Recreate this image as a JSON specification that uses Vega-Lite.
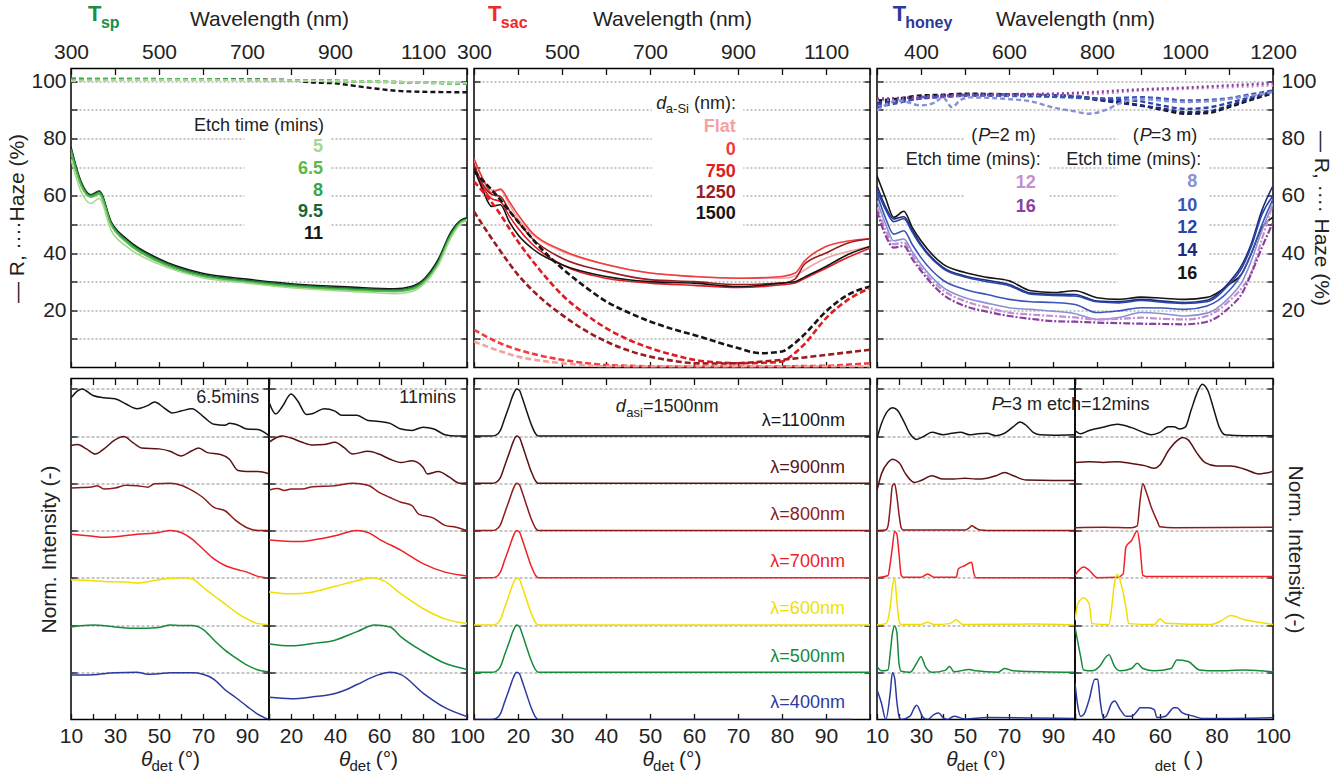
{
"$schema":"https://vega.github.io/schema/vega-lite/v6.json",
"background":"white",
"padding":{"left":5,"top":2.5,"right":5,"bottom":5},
"config":{
 "font":"Liberation Sans",
 "view":{"stroke":"#000","strokeWidth":1.5},
 "axis":{"domain":false,"grid":false,"labelFont":"Liberation Sans","titleFont":"Liberation Sans","labelFontSize":21,"labelColor":"#222","titleFontSize":21,"titleFontWeight":"normal","titleColor":"#222","tickColor":"#111","tickSize":-6,"tickWidth":1.3,"labelPadding":11,"minExtent":0,"gridColor":"#8c8c8c","gridDash":[2,2],"gridWidth":1,"labelFlush":false,"labelOverlap":false},
 "text":{"font":"Liberation Sans","fontSize":18,"baseline":"middle"}
},
"datasets":{
"tl":[
{"s":"11","k":"R","x":300,"y":77},{"s":"11","k":"R","x":323,"y":64.9},{"s":"11","k":"R","x":345,"y":60.4},{"s":"11","k":"R","x":364,"y":61.7},{"s":"11","k":"R","x":391,"y":51},{"s":"11","k":"R","x":429,"y":44.6},{"s":"11","k":"R","x":497,"y":38.2},{"s":"11","k":"R","x":596,"y":33},{"s":"11","k":"R","x":698,"y":30.9},{"s":"11","k":"R","x":823,"y":29},{"s":"11","k":"R","x":937,"y":28.1},{"s":"11","k":"R","x":1035,"y":27.5},{"s":"11","k":"R","x":1073,"y":28.3},{"s":"11","k":"R","x":1104,"y":31.2},{"s":"11","k":"R","x":1134,"y":37.6},{"s":"11","k":"R","x":1164,"y":47.5},{"s":"11","k":"R","x":1187,"y":51.6},{"s":"11","k":"R","x":1200,"y":52.3},
{"s":"9.5","k":"R","x":300,"y":76.5},{"s":"9.5","k":"R","x":323,"y":64.5},{"s":"9.5","k":"R","x":345,"y":60.2},{"s":"9.5","k":"R","x":364,"y":61.5},{"s":"9.5","k":"R","x":391,"y":50.6},{"s":"9.5","k":"R","x":429,"y":44.2},{"s":"9.5","k":"R","x":497,"y":37.8},{"s":"9.5","k":"R","x":596,"y":32.6},{"s":"9.5","k":"R","x":698,"y":30.5},{"s":"9.5","k":"R","x":823,"y":28.6},{"s":"9.5","k":"R","x":937,"y":27.7},{"s":"9.5","k":"R","x":1035,"y":27.1},{"s":"9.5","k":"R","x":1073,"y":27.9},{"s":"9.5","k":"R","x":1104,"y":30.8},{"s":"9.5","k":"R","x":1134,"y":37},{"s":"9.5","k":"R","x":1164,"y":47},{"s":"9.5","k":"R","x":1187,"y":51.3},{"s":"9.5","k":"R","x":1200,"y":52},
{"s":"8","k":"R","x":300,"y":76},{"s":"8","k":"R","x":323,"y":64},{"s":"8","k":"R","x":345,"y":59.8},{"s":"8","k":"R","x":364,"y":61},{"s":"8","k":"R","x":391,"y":50.2},{"s":"8","k":"R","x":429,"y":43.8},{"s":"8","k":"R","x":497,"y":37.4},{"s":"8","k":"R","x":596,"y":32.2},{"s":"8","k":"R","x":698,"y":30.1},{"s":"8","k":"R","x":823,"y":28.3},{"s":"8","k":"R","x":937,"y":27.3},{"s":"8","k":"R","x":1035,"y":26.8},{"s":"8","k":"R","x":1073,"y":27.5},{"s":"8","k":"R","x":1104,"y":30.3},{"s":"8","k":"R","x":1134,"y":36.5},{"s":"8","k":"R","x":1164,"y":46.5},{"s":"8","k":"R","x":1187,"y":51},{"s":"8","k":"R","x":1200,"y":51.8},
{"s":"6.5","k":"R","x":300,"y":75},{"s":"6.5","k":"R","x":323,"y":63.5},{"s":"6.5","k":"R","x":345,"y":59.5},{"s":"6.5","k":"R","x":364,"y":60.6},{"s":"6.5","k":"R","x":391,"y":49.8},{"s":"6.5","k":"R","x":429,"y":43.4},{"s":"6.5","k":"R","x":497,"y":37},{"s":"6.5","k":"R","x":596,"y":31.8},{"s":"6.5","k":"R","x":698,"y":29.8},{"s":"6.5","k":"R","x":823,"y":28},{"s":"6.5","k":"R","x":937,"y":27},{"s":"6.5","k":"R","x":1035,"y":26.5},{"s":"6.5","k":"R","x":1073,"y":27.2},{"s":"6.5","k":"R","x":1104,"y":30},{"s":"6.5","k":"R","x":1134,"y":36},{"s":"6.5","k":"R","x":1164,"y":46},{"s":"6.5","k":"R","x":1187,"y":50.7},{"s":"6.5","k":"R","x":1200,"y":51.5},
{"s":"5","k":"R","x":300,"y":72.8},{"s":"5","k":"R","x":323,"y":61.5},{"s":"5","k":"R","x":345,"y":57.3},{"s":"5","k":"R","x":364,"y":59.1},{"s":"5","k":"R","x":391,"y":48},{"s":"5","k":"R","x":429,"y":42},{"s":"5","k":"R","x":497,"y":36.3},{"s":"5","k":"R","x":596,"y":31.5},{"s":"5","k":"R","x":698,"y":29.5},{"s":"5","k":"R","x":823,"y":27.6},{"s":"5","k":"R","x":937,"y":26.6},{"s":"5","k":"R","x":1035,"y":25.8},{"s":"5","k":"R","x":1073,"y":26.5},{"s":"5","k":"R","x":1104,"y":29.5},{"s":"5","k":"R","x":1134,"y":35.5},{"s":"5","k":"R","x":1164,"y":45.5},{"s":"5","k":"R","x":1187,"y":50.5},{"s":"5","k":"R","x":1200,"y":51.5},
{"s":"11","k":"H","x":300,"y":100.8},{"s":"11","k":"H","x":500,"y":100.8},{"s":"11","k":"H","x":700,"y":100.6},{"s":"11","k":"H","x":800,"y":100.4},{"s":"11","k":"H","x":840,"y":99.7},{"s":"11","k":"H","x":900,"y":99.3},{"s":"11","k":"H","x":975,"y":97.8},{"s":"11","k":"H","x":1051,"y":96.6},{"s":"11","k":"H","x":1120,"y":96.3},{"s":"11","k":"H","x":1200,"y":96.2},
{"s":"9.5","k":"H","x":300,"y":100.9},{"s":"9.5","k":"H","x":500,"y":100.8},{"s":"9.5","k":"H","x":700,"y":100.6},{"s":"9.5","k":"H","x":900,"y":100.2},{"s":"9.5","k":"H","x":1000,"y":99.9},{"s":"9.5","k":"H","x":1100,"y":99.6},{"s":"9.5","k":"H","x":1200,"y":99.3},
{"s":"8","k":"H","x":300,"y":100.7},{"s":"8","k":"H","x":500,"y":100.7},{"s":"8","k":"H","x":700,"y":100.5},{"s":"8","k":"H","x":900,"y":100.1},{"s":"8","k":"H","x":1000,"y":99.8},{"s":"8","k":"H","x":1100,"y":99.5},{"s":"8","k":"H","x":1200,"y":99.2},
{"s":"6.5","k":"H","x":300,"y":100.6},{"s":"6.5","k":"H","x":500,"y":100.6},{"s":"6.5","k":"H","x":700,"y":100.5},{"s":"6.5","k":"H","x":900,"y":100.2},{"s":"6.5","k":"H","x":1000,"y":99.9},{"s":"6.5","k":"H","x":1100,"y":99.6},{"s":"6.5","k":"H","x":1200,"y":99.4},
{"s":"5","k":"H","x":300,"y":100.2},{"s":"5","k":"H","x":500,"y":100.5},{"s":"5","k":"H","x":700,"y":100.4},{"s":"5","k":"H","x":900,"y":100.1},{"s":"5","k":"H","x":1000,"y":99.9},{"s":"5","k":"H","x":1100,"y":99.6},{"s":"5","k":"H","x":1200,"y":99.4}
],
"tm":[
{"s":"Flat","k":"R","x":300,"y":72.6},{"s":"Flat","k":"R","x":320,"y":66},{"s":"Flat","k":"R","x":340,"y":62},{"s":"Flat","k":"R","x":360,"y":62},{"s":"Flat","k":"R","x":380,"y":57},{"s":"Flat","k":"R","x":400,"y":52},{"s":"Flat","k":"R","x":433,"y":46.4},{"s":"Flat","k":"R","x":500,"y":40.6},{"s":"Flat","k":"R","x":600,"y":36},{"s":"Flat","k":"R","x":700,"y":33},{"s":"Flat","k":"R","x":800,"y":31.8},{"s":"Flat","k":"R","x":900,"y":31.2},{"s":"Flat","k":"R","x":1000,"y":31.2},{"s":"Flat","k":"R","x":1030,"y":32},{"s":"Flat","k":"R","x":1050,"y":34},{"s":"Flat","k":"R","x":1100,"y":38.2},{"s":"Flat","k":"R","x":1150,"y":40.5},{"s":"Flat","k":"R","x":1200,"y":42.3},
{"s":"0","k":"R","x":300,"y":73},{"s":"0","k":"R","x":320,"y":66},{"s":"0","k":"R","x":340,"y":61},{"s":"0","k":"R","x":360,"y":62.4},{"s":"0","k":"R","x":380,"y":58},{"s":"0","k":"R","x":400,"y":53.4},{"s":"0","k":"R","x":433,"y":47},{"s":"0","k":"R","x":500,"y":41},{"s":"0","k":"R","x":600,"y":36},{"s":"0","k":"R","x":700,"y":33},{"s":"0","k":"R","x":800,"y":31.8},{"s":"0","k":"R","x":900,"y":31.2},{"s":"0","k":"R","x":1000,"y":31.8},{"s":"0","k":"R","x":1030,"y":33},{"s":"0","k":"R","x":1050,"y":37},{"s":"0","k":"R","x":1100,"y":42.3},{"s":"0","k":"R","x":1150,"y":44.2},{"s":"0","k":"R","x":1200,"y":45},
{"s":"750","k":"R","x":300,"y":69.7},{"s":"750","k":"R","x":320,"y":63},{"s":"750","k":"R","x":340,"y":59},{"s":"750","k":"R","x":360,"y":58},{"s":"750","k":"R","x":380,"y":53},{"s":"750","k":"R","x":400,"y":48.7},{"s":"750","k":"R","x":433,"y":43},{"s":"750","k":"R","x":500,"y":35.9},{"s":"750","k":"R","x":600,"y":31.2},{"s":"750","k":"R","x":700,"y":29.5},{"s":"750","k":"R","x":800,"y":28.7},{"s":"750","k":"R","x":900,"y":28},{"s":"750","k":"R","x":1000,"y":28.9},{"s":"750","k":"R","x":1030,"y":29.5},{"s":"750","k":"R","x":1050,"y":31},{"s":"750","k":"R","x":1100,"y":34.7},{"s":"750","k":"R","x":1150,"y":38.5},{"s":"750","k":"R","x":1200,"y":41.7},
{"s":"1250","k":"R","x":300,"y":70.9},{"s":"1250","k":"R","x":320,"y":64},{"s":"1250","k":"R","x":340,"y":60.5},{"s":"1250","k":"R","x":360,"y":59.8},{"s":"1250","k":"R","x":380,"y":55},{"s":"1250","k":"R","x":400,"y":51},{"s":"1250","k":"R","x":433,"y":45},{"s":"1250","k":"R","x":500,"y":38.2},{"s":"1250","k":"R","x":600,"y":33.6},{"s":"1250","k":"R","x":700,"y":30.7},{"s":"1250","k":"R","x":800,"y":30},{"s":"1250","k":"R","x":900,"y":29},{"s":"1250","k":"R","x":1000,"y":29.5},{"s":"1250","k":"R","x":1030,"y":31},{"s":"1250","k":"R","x":1050,"y":35.9},{"s":"1250","k":"R","x":1100,"y":40},{"s":"1250","k":"R","x":1150,"y":43.5},{"s":"1250","k":"R","x":1200,"y":45},
{"s":"1500","k":"R","x":300,"y":69.7},{"s":"1500","k":"R","x":320,"y":62},{"s":"1500","k":"R","x":340,"y":56.3},{"s":"1500","k":"R","x":360,"y":56.9},{"s":"1500","k":"R","x":380,"y":51},{"s":"1500","k":"R","x":400,"y":46.4},{"s":"1500","k":"R","x":433,"y":41.5},{"s":"1500","k":"R","x":500,"y":35.9},{"s":"1500","k":"R","x":600,"y":31.8},{"s":"1500","k":"R","x":700,"y":30},{"s":"1500","k":"R","x":800,"y":29.5},{"s":"1500","k":"R","x":900,"y":28.3},{"s":"1500","k":"R","x":1000,"y":29.5},{"s":"1500","k":"R","x":1030,"y":30},{"s":"1500","k":"R","x":1050,"y":31.5},{"s":"1500","k":"R","x":1100,"y":35.3},{"s":"1500","k":"R","x":1150,"y":39.5},{"s":"1500","k":"R","x":1200,"y":42.3},
{"s":"1500","k":"H","x":300,"y":68.5},{"s":"1500","k":"H","x":350,"y":60.4},{"s":"1500","k":"H","x":400,"y":51},{"s":"1500","k":"H","x":450,"y":42},{"s":"1500","k":"H","x":500,"y":34.7},{"s":"1500","k":"H","x":550,"y":28.5},{"s":"1500","k":"H","x":600,"y":23.1},{"s":"1500","k":"H","x":650,"y":19.3},{"s":"1500","k":"H","x":700,"y":16.1},{"s":"1500","k":"H","x":750,"y":13.5},{"s":"1500","k":"H","x":800,"y":11.4},{"s":"1500","k":"H","x":850,"y":9},{"s":"1500","k":"H","x":900,"y":6.8},{"s":"1500","k":"H","x":950,"y":5},{"s":"1500","k":"H","x":1000,"y":5.6},{"s":"1500","k":"H","x":1025,"y":8},{"s":"1500","k":"H","x":1050,"y":11.4},{"s":"1500","k":"H","x":1100,"y":19.6},{"s":"1500","k":"H","x":1150,"y":25.4},{"s":"1500","k":"H","x":1200,"y":28.3},
{"s":"750","k":"H","x":300,"y":65},{"s":"750","k":"H","x":350,"y":55.7},{"s":"750","k":"H","x":400,"y":44},{"s":"750","k":"H","x":450,"y":34},{"s":"750","k":"H","x":500,"y":25.4},{"s":"750","k":"H","x":550,"y":19},{"s":"750","k":"H","x":600,"y":13.8},{"s":"750","k":"H","x":650,"y":9.8},{"s":"750","k":"H","x":700,"y":6.8},{"s":"750","k":"H","x":750,"y":4.5},{"s":"750","k":"H","x":800,"y":2.7},{"s":"750","k":"H","x":850,"y":1.8},{"s":"750","k":"H","x":900,"y":1.5},{"s":"750","k":"H","x":950,"y":1.6},{"s":"750","k":"H","x":1000,"y":2.1},{"s":"750","k":"H","x":1025,"y":4.5},{"s":"750","k":"H","x":1050,"y":8},{"s":"750","k":"H","x":1100,"y":17.2},{"s":"750","k":"H","x":1150,"y":23.7},{"s":"750","k":"H","x":1200,"y":27.7},
{"s":"1250","k":"H","x":300,"y":54.5},{"s":"1250","k":"H","x":350,"y":42.9},{"s":"1250","k":"H","x":400,"y":32.4},{"s":"1250","k":"H","x":450,"y":24.5},{"s":"1250","k":"H","x":500,"y":18.4},{"s":"1250","k":"H","x":550,"y":13.2},{"s":"1250","k":"H","x":600,"y":9.1},{"s":"1250","k":"H","x":650,"y":6},{"s":"1250","k":"H","x":700,"y":3.8},{"s":"1250","k":"H","x":750,"y":2.4},{"s":"1250","k":"H","x":800,"y":1.5},{"s":"1250","k":"H","x":850,"y":1.4},{"s":"1250","k":"H","x":900,"y":1.5},{"s":"1250","k":"H","x":950,"y":2},{"s":"1250","k":"H","x":1000,"y":2.7},{"s":"1250","k":"H","x":1025,"y":3.1},{"s":"1250","k":"H","x":1050,"y":3.5},{"s":"1250","k":"H","x":1100,"y":4.4},{"s":"1250","k":"H","x":1150,"y":5.3},{"s":"1250","k":"H","x":1200,"y":6.2},
{"s":"0","k":"H","x":300,"y":13.2},{"s":"0","k":"H","x":350,"y":9.1},{"s":"0","k":"H","x":400,"y":6.2},{"s":"0","k":"H","x":450,"y":4.2},{"s":"0","k":"H","x":500,"y":2.7},{"s":"0","k":"H","x":550,"y":1.6},{"s":"0","k":"H","x":600,"y":0.9},{"s":"0","k":"H","x":650,"y":0.6},{"s":"0","k":"H","x":700,"y":0.4},{"s":"0","k":"H","x":800,"y":0.3},{"s":"0","k":"H","x":900,"y":0.3},{"s":"0","k":"H","x":1000,"y":0.4},{"s":"0","k":"H","x":1050,"y":0.5},{"s":"0","k":"H","x":1100,"y":0.6},{"s":"0","k":"H","x":1150,"y":1},{"s":"0","k":"H","x":1200,"y":1.5},
{"s":"Flat","k":"H","x":300,"y":9.1},{"s":"Flat","k":"H","x":350,"y":6.2},{"s":"Flat","k":"H","x":400,"y":3.8},{"s":"Flat","k":"H","x":450,"y":2.4},{"s":"Flat","k":"H","x":500,"y":1.5},{"s":"Flat","k":"H","x":550,"y":0.8},{"s":"Flat","k":"H","x":600,"y":0.4},{"s":"Flat","k":"H","x":700,"y":0.3},{"s":"Flat","k":"H","x":900,"y":0.3},{"s":"Flat","k":"H","x":1200,"y":0.3}
],
"tr":[
{"s":"16","k":"R","x":300,"y":67},{"s":"16","k":"R","x":320,"y":59},{"s":"16","k":"R","x":338,"y":52.5},{"s":"16","k":"R","x":361,"y":54.6},{"s":"16","k":"R","x":380,"y":49},{"s":"16","k":"R","x":400,"y":44.3},{"s":"16","k":"R","x":450,"y":36.1},{"s":"16","k":"R","x":500,"y":33.2},{"s":"16","k":"R","x":550,"y":31.5},{"s":"16","k":"R","x":600,"y":30.3},{"s":"16","k":"R","x":650,"y":26.8},{"s":"16","k":"R","x":700,"y":26.2},{"s":"16","k":"R","x":750,"y":26.8},{"s":"16","k":"R","x":800,"y":24.4},{"s":"16","k":"R","x":850,"y":23.8},{"s":"16","k":"R","x":900,"y":24.6},{"s":"16","k":"R","x":950,"y":24.2},{"s":"16","k":"R","x":1000,"y":23.8},{"s":"16","k":"R","x":1050,"y":24.5},{"s":"16","k":"R","x":1100,"y":29},{"s":"16","k":"R","x":1130,"y":33},{"s":"16","k":"R","x":1150,"y":39.6},{"s":"16","k":"R","x":1175,"y":48.9},{"s":"16","k":"R","x":1200,"y":52.5},
{"s":"14","k":"R","x":300,"y":63.5},{"s":"14","k":"R","x":320,"y":56},{"s":"14","k":"R","x":338,"y":51.9},{"s":"14","k":"R","x":361,"y":52.7},{"s":"14","k":"R","x":380,"y":48},{"s":"14","k":"R","x":400,"y":43},{"s":"14","k":"R","x":450,"y":35},{"s":"14","k":"R","x":500,"y":32},{"s":"14","k":"R","x":550,"y":30.5},{"s":"14","k":"R","x":600,"y":29},{"s":"14","k":"R","x":650,"y":26},{"s":"14","k":"R","x":700,"y":25.6},{"s":"14","k":"R","x":750,"y":25.5},{"s":"14","k":"R","x":800,"y":23.2},{"s":"14","k":"R","x":850,"y":23},{"s":"14","k":"R","x":900,"y":23.8},{"s":"14","k":"R","x":950,"y":23.2},{"s":"14","k":"R","x":1000,"y":22.7},{"s":"14","k":"R","x":1050,"y":23.5},{"s":"14","k":"R","x":1100,"y":29.7},{"s":"14","k":"R","x":1130,"y":36},{"s":"14","k":"R","x":1150,"y":43},{"s":"14","k":"R","x":1175,"y":55},{"s":"14","k":"R","x":1200,"y":63.5},
{"s":"12","k":"R","x":300,"y":62},{"s":"12","k":"R","x":320,"y":55},{"s":"12","k":"R","x":338,"y":51},{"s":"12","k":"R","x":361,"y":52},{"s":"12","k":"R","x":380,"y":47.3},{"s":"12","k":"R","x":400,"y":42.5},{"s":"12","k":"R","x":450,"y":34.6},{"s":"12","k":"R","x":500,"y":31.6},{"s":"12","k":"R","x":550,"y":30},{"s":"12","k":"R","x":600,"y":28.6},{"s":"12","k":"R","x":650,"y":25.6},{"s":"12","k":"R","x":700,"y":25.2},{"s":"12","k":"R","x":750,"y":25},{"s":"12","k":"R","x":800,"y":23},{"s":"12","k":"R","x":850,"y":22.6},{"s":"12","k":"R","x":900,"y":23.4},{"s":"12","k":"R","x":950,"y":22.8},{"s":"12","k":"R","x":1000,"y":22.4},{"s":"12","k":"R","x":1050,"y":23},{"s":"12","k":"R","x":1100,"y":29},{"s":"12","k":"R","x":1130,"y":35},{"s":"12","k":"R","x":1150,"y":42},{"s":"12","k":"R","x":1175,"y":53.5},{"s":"12","k":"R","x":1200,"y":60},
{"s":"10","k":"R","x":300,"y":60.6},{"s":"10","k":"R","x":320,"y":52},{"s":"10","k":"R","x":338,"y":46.6},{"s":"10","k":"R","x":361,"y":47.8},{"s":"10","k":"R","x":380,"y":43},{"s":"10","k":"R","x":400,"y":38.4},{"s":"10","k":"R","x":450,"y":30.5},{"s":"10","k":"R","x":500,"y":27.3},{"s":"10","k":"R","x":550,"y":25.5},{"s":"10","k":"R","x":600,"y":23.8},{"s":"10","k":"R","x":650,"y":23},{"s":"10","k":"R","x":700,"y":22.7},{"s":"10","k":"R","x":750,"y":22},{"s":"10","k":"R","x":800,"y":19.2},{"s":"10","k":"R","x":850,"y":19.8},{"s":"10","k":"R","x":900,"y":20.9},{"s":"10","k":"R","x":950,"y":20.8},{"s":"10","k":"R","x":1000,"y":20.3},{"s":"10","k":"R","x":1050,"y":21.5},{"s":"10","k":"R","x":1100,"y":26.8},{"s":"10","k":"R","x":1130,"y":33},{"s":"10","k":"R","x":1150,"y":39.6},{"s":"10","k":"R","x":1175,"y":50},{"s":"10","k":"R","x":1200,"y":58.9},
{"s":"8","k":"R","x":300,"y":58.3},{"s":"8","k":"R","x":320,"y":50},{"s":"8","k":"R","x":338,"y":44.3},{"s":"8","k":"R","x":361,"y":44.9},{"s":"8","k":"R","x":380,"y":40.5},{"s":"8","k":"R","x":400,"y":36.1},{"s":"8","k":"R","x":450,"y":28},{"s":"8","k":"R","x":500,"y":24.4},{"s":"8","k":"R","x":550,"y":22.5},{"s":"8","k":"R","x":600,"y":20.9},{"s":"8","k":"R","x":650,"y":20.3},{"s":"8","k":"R","x":700,"y":19.7},{"s":"8","k":"R","x":750,"y":18.8},{"s":"8","k":"R","x":800,"y":16.8},{"s":"8","k":"R","x":850,"y":17.5},{"s":"8","k":"R","x":900,"y":19.2},{"s":"8","k":"R","x":950,"y":18.8},{"s":"8","k":"R","x":1000,"y":18},{"s":"8","k":"R","x":1050,"y":19},{"s":"8","k":"R","x":1100,"y":24.4},{"s":"8","k":"R","x":1130,"y":30},{"s":"8","k":"R","x":1150,"y":37},{"s":"8","k":"R","x":1175,"y":48},{"s":"8","k":"R","x":1200,"y":57.1},
{"s":"P2-12","k":"R2","x":300,"y":56},{"s":"P2-12","k":"R2","x":320,"y":48},{"s":"P2-12","k":"R2","x":338,"y":43.1},{"s":"P2-12","k":"R2","x":361,"y":43.7},{"s":"P2-12","k":"R2","x":380,"y":39.5},{"s":"P2-12","k":"R2","x":400,"y":34.9},{"s":"P2-12","k":"R2","x":450,"y":27},{"s":"P2-12","k":"R2","x":500,"y":23.2},{"s":"P2-12","k":"R2","x":550,"y":21},{"s":"P2-12","k":"R2","x":600,"y":19.2},{"s":"P2-12","k":"R2","x":650,"y":18.5},{"s":"P2-12","k":"R2","x":700,"y":18},{"s":"P2-12","k":"R2","x":750,"y":17.5},{"s":"P2-12","k":"R2","x":800,"y":16.8},{"s":"P2-12","k":"R2","x":850,"y":17},{"s":"P2-12","k":"R2","x":900,"y":17.4},{"s":"P2-12","k":"R2","x":950,"y":17},{"s":"P2-12","k":"R2","x":1000,"y":16.8},{"s":"P2-12","k":"R2","x":1050,"y":18},{"s":"P2-12","k":"R2","x":1100,"y":23.2},{"s":"P2-12","k":"R2","x":1130,"y":28},{"s":"P2-12","k":"R2","x":1150,"y":33},{"s":"P2-12","k":"R2","x":1175,"y":45},{"s":"P2-12","k":"R2","x":1200,"y":57.5},
{"s":"P2-16","k":"R2","x":300,"y":54.8},{"s":"P2-16","k":"R2","x":320,"y":46},{"s":"P2-16","k":"R2","x":338,"y":41.9},{"s":"P2-16","k":"R2","x":361,"y":42.5},{"s":"P2-16","k":"R2","x":380,"y":38},{"s":"P2-16","k":"R2","x":400,"y":33.8},{"s":"P2-16","k":"R2","x":450,"y":25.5},{"s":"P2-16","k":"R2","x":500,"y":21.5},{"s":"P2-16","k":"R2","x":550,"y":19.5},{"s":"P2-16","k":"R2","x":600,"y":18},{"s":"P2-16","k":"R2","x":650,"y":17},{"s":"P2-16","k":"R2","x":700,"y":16.2},{"s":"P2-16","k":"R2","x":750,"y":16},{"s":"P2-16","k":"R2","x":800,"y":15.7},{"s":"P2-16","k":"R2","x":850,"y":15.5},{"s":"P2-16","k":"R2","x":900,"y":15.3},{"s":"P2-16","k":"R2","x":950,"y":15.2},{"s":"P2-16","k":"R2","x":1000,"y":15.1},{"s":"P2-16","k":"R2","x":1050,"y":16},{"s":"P2-16","k":"R2","x":1100,"y":20.9},{"s":"P2-16","k":"R2","x":1130,"y":26},{"s":"P2-16","k":"R2","x":1150,"y":32.6},{"s":"P2-16","k":"R2","x":1175,"y":42},{"s":"P2-16","k":"R2","x":1200,"y":50.7},
{"s":"16","k":"H","x":300,"y":93.3},{"s":"16","k":"H","x":350,"y":94},{"s":"16","k":"H","x":400,"y":95.1},{"s":"16","k":"H","x":450,"y":95.3},{"s":"16","k":"H","x":500,"y":95.7},{"s":"16","k":"H","x":600,"y":95.5},{"s":"16","k":"H","x":700,"y":95.1},{"s":"16","k":"H","x":750,"y":94.8},{"s":"16","k":"H","x":800,"y":93.9},{"s":"16","k":"H","x":850,"y":92.8},{"s":"16","k":"H","x":900,"y":91.6},{"s":"16","k":"H","x":950,"y":90},{"s":"16","k":"H","x":1000,"y":88.7},{"s":"16","k":"H","x":1050,"y":88.9},{"s":"16","k":"H","x":1100,"y":91},{"s":"16","k":"H","x":1150,"y":93.5},{"s":"16","k":"H","x":1200,"y":95.9},
{"s":"14","k":"H","x":300,"y":92.5},{"s":"14","k":"H","x":350,"y":93.5},{"s":"14","k":"H","x":400,"y":94.5},{"s":"14","k":"H","x":450,"y":95},{"s":"14","k":"H","x":500,"y":95.3},{"s":"14","k":"H","x":600,"y":95.2},{"s":"14","k":"H","x":700,"y":95},{"s":"14","k":"H","x":750,"y":94.5},{"s":"14","k":"H","x":800,"y":93.5},{"s":"14","k":"H","x":850,"y":92.5},{"s":"14","k":"H","x":900,"y":91.5},{"s":"14","k":"H","x":950,"y":90.5},{"s":"14","k":"H","x":1000,"y":89.3},{"s":"14","k":"H","x":1050,"y":89.5},{"s":"14","k":"H","x":1100,"y":91.5},{"s":"14","k":"H","x":1150,"y":94},{"s":"14","k":"H","x":1200,"y":96.3},
{"s":"12","k":"H","x":300,"y":92},{"s":"12","k":"H","x":350,"y":93},{"s":"12","k":"H","x":400,"y":94},{"s":"12","k":"H","x":450,"y":94.6},{"s":"12","k":"H","x":500,"y":95},{"s":"12","k":"H","x":600,"y":95.3},{"s":"12","k":"H","x":700,"y":95.2},{"s":"12","k":"H","x":750,"y":94.8},{"s":"12","k":"H","x":800,"y":94},{"s":"12","k":"H","x":850,"y":93.5},{"s":"12","k":"H","x":900,"y":93},{"s":"12","k":"H","x":950,"y":91.5},{"s":"12","k":"H","x":1000,"y":90.4},{"s":"12","k":"H","x":1050,"y":90.8},{"s":"12","k":"H","x":1100,"y":92.5},{"s":"12","k":"H","x":1150,"y":94.5},{"s":"12","k":"H","x":1200,"y":96.5},
{"s":"10","k":"H","x":300,"y":91},{"s":"10","k":"H","x":350,"y":92.5},{"s":"10","k":"H","x":400,"y":94.1},{"s":"10","k":"H","x":450,"y":94.6},{"s":"10","k":"H","x":500,"y":95},{"s":"10","k":"H","x":600,"y":94.9},{"s":"10","k":"H","x":700,"y":94.6},{"s":"10","k":"H","x":750,"y":94.3},{"s":"10","k":"H","x":800,"y":94},{"s":"10","k":"H","x":850,"y":94.2},{"s":"10","k":"H","x":900,"y":94.5},{"s":"10","k":"H","x":950,"y":94},{"s":"10","k":"H","x":1000,"y":93.3},{"s":"10","k":"H","x":1050,"y":93.5},{"s":"10","k":"H","x":1100,"y":94.1},{"s":"10","k":"H","x":1150,"y":95.5},{"s":"10","k":"H","x":1200,"y":96.8},
{"s":"8","k":"H","x":300,"y":89.8},{"s":"8","k":"H","x":350,"y":93.3},{"s":"8","k":"H","x":400,"y":91.6},{"s":"8","k":"H","x":430,"y":92.5},{"s":"8","k":"H","x":450,"y":94.4},{"s":"8","k":"H","x":470,"y":91},{"s":"8","k":"H","x":490,"y":93.5},{"s":"8","k":"H","x":510,"y":94.4},{"s":"8","k":"H","x":600,"y":93.8},{"s":"8","k":"H","x":650,"y":93},{"s":"8","k":"H","x":700,"y":90.9},{"s":"8","k":"H","x":750,"y":89.5},{"s":"8","k":"H","x":780,"y":88.7},{"s":"8","k":"H","x":820,"y":90},{"s":"8","k":"H","x":850,"y":92.2},{"s":"8","k":"H","x":900,"y":93.9},{"s":"8","k":"H","x":950,"y":93.2},{"s":"8","k":"H","x":1000,"y":92.8},{"s":"8","k":"H","x":1050,"y":93},{"s":"8","k":"H","x":1100,"y":93.9},{"s":"8","k":"H","x":1150,"y":95},{"s":"8","k":"H","x":1200,"y":96.3},
{"s":"P2-12","k":"H2","x":300,"y":93.3},{"s":"P2-12","k":"H2","x":400,"y":94.5},{"s":"P2-12","k":"H2","x":500,"y":95.1},{"s":"P2-12","k":"H2","x":600,"y":95.2},{"s":"P2-12","k":"H2","x":700,"y":95.4},{"s":"P2-12","k":"H2","x":800,"y":95.7},{"s":"P2-12","k":"H2","x":900,"y":96.8},{"s":"P2-12","k":"H2","x":1000,"y":97.4},{"s":"P2-12","k":"H2","x":1100,"y":98},{"s":"P2-12","k":"H2","x":1200,"y":98.6},
{"s":"P2-16","k":"H2","x":300,"y":93.9},{"s":"P2-16","k":"H2","x":400,"y":94.5},{"s":"P2-16","k":"H2","x":500,"y":95.3},{"s":"P2-16","k":"H2","x":600,"y":95.5},{"s":"P2-16","k":"H2","x":700,"y":95.7},{"s":"P2-16","k":"H2","x":800,"y":96.3},{"s":"P2-16","k":"H2","x":850,"y":96.8},{"s":"P2-16","k":"H2","x":900,"y":97.2},{"s":"P2-16","k":"H2","x":1000,"y":97.8},{"s":"P2-16","k":"H2","x":1100,"y":98.6},{"s":"P2-16","k":"H2","x":1200,"y":99.4}
],
"bl1":[
{"s":"1100","x":10,"y":6.81},{"s":"1100","x":13,"y":6.96},{"s":"1100","x":15,"y":7.0},{"s":"1100","x":20,"y":6.86},{"s":"1100","x":25,"y":6.81},{"s":"1100","x":30,"y":6.79},{"s":"1100","x":35,"y":6.68},{"s":"1100","x":40,"y":6.58},{"s":"1100","x":45,"y":6.65},{"s":"1100","x":48,"y":6.72},{"s":"1100","x":52,"y":6.61},{"s":"1100","x":56,"y":6.49},{"s":"1100","x":60,"y":6.53},{"s":"1100","x":65,"y":6.58},{"s":"1100","x":70,"y":6.42},{"s":"1100","x":75,"y":6.25},{"s":"1100","x":80,"y":6.23},{"s":"1100","x":82,"y":6.27},{"s":"1100","x":86,"y":6.23},{"s":"1100","x":90,"y":6.15},{"s":"1100","x":95,"y":6.14},{"s":"1100","x":100,"y":6.01},
{"s":"900","x":10,"y":5.8},{"s":"900","x":13,"y":5.82},{"s":"900","x":17,"y":5.73},{"s":"900","x":21,"y":5.62},{"s":"900","x":25,"y":5.73},{"s":"900","x":30,"y":5.92},{"s":"900","x":34,"y":5.99},{"s":"900","x":38,"y":5.87},{"s":"900","x":42,"y":5.75},{"s":"900","x":50,"y":5.73},{"s":"900","x":55,"y":5.68},{"s":"900","x":60,"y":5.58},{"s":"900","x":65,"y":5.69},{"s":"900","x":68,"y":5.75},{"s":"900","x":72,"y":5.65},{"s":"900","x":78,"y":5.61},{"s":"900","x":82,"y":5.51},{"s":"900","x":86,"y":5.27},{"s":"900","x":90,"y":5.25},{"s":"900","x":95,"y":5.25},{"s":"900","x":100,"y":5.2},
{"s":"800","x":10,"y":4.9},{"s":"800","x":15,"y":4.91},{"s":"800","x":20,"y":4.93},{"s":"800","x":22,"y":4.95},{"s":"800","x":25,"y":4.88},{"s":"800","x":30,"y":4.9},{"s":"800","x":35,"y":4.96},{"s":"800","x":40,"y":4.95},{"s":"800","x":45,"y":4.92},{"s":"800","x":48,"y":4.99},{"s":"800","x":55,"y":5.0},{"s":"800","x":60,"y":4.96},{"s":"800","x":65,"y":4.85},{"s":"800","x":70,"y":4.7},{"s":"800","x":75,"y":4.49},{"s":"800","x":80,"y":4.42},{"s":"800","x":85,"y":4.21},{"s":"800","x":90,"y":4.06},{"s":"800","x":95,"y":4.0},{"s":"800","x":100,"y":4.0},
{"s":"700","x":10,"y":3.92},{"s":"700","x":20,"y":3.88},{"s":"700","x":25,"y":3.86},{"s":"700","x":30,"y":3.87},{"s":"700","x":40,"y":3.92},{"s":"700","x":50,"y":3.96},{"s":"700","x":55,"y":4.0},{"s":"700","x":60,"y":3.96},{"s":"700","x":65,"y":3.82},{"s":"700","x":70,"y":3.61},{"s":"700","x":75,"y":3.4},{"s":"700","x":80,"y":3.26},{"s":"700","x":85,"y":3.18},{"s":"700","x":90,"y":3.12},{"s":"700","x":95,"y":3.03},{"s":"700","x":100,"y":3.0},
{"s":"600","x":10,"y":2.96},{"s":"600","x":20,"y":2.94},{"s":"600","x":25,"y":2.92},{"s":"600","x":35,"y":2.91},{"s":"600","x":40,"y":2.89},{"s":"600","x":50,"y":2.96},{"s":"600","x":60,"y":3.0},{"s":"600","x":65,"y":2.98},{"s":"600","x":70,"y":2.8},{"s":"600","x":75,"y":2.62},{"s":"600","x":80,"y":2.45},{"s":"600","x":85,"y":2.27},{"s":"600","x":90,"y":2.13},{"s":"600","x":95,"y":2.03},{"s":"600","x":100,"y":2.01},
{"s":"500","x":10,"y":1.96},{"s":"500","x":20,"y":2.0},{"s":"500","x":30,"y":1.96},{"s":"500","x":40,"y":1.93},{"s":"500","x":50,"y":1.95},{"s":"500","x":55,"y":2.0},{"s":"500","x":60,"y":1.99},{"s":"500","x":65,"y":1.99},{"s":"500","x":70,"y":1.91},{"s":"500","x":75,"y":1.68},{"s":"500","x":80,"y":1.47},{"s":"500","x":85,"y":1.3},{"s":"500","x":90,"y":1.15},{"s":"500","x":95,"y":1.05},{"s":"500","x":100,"y":1.01},
{"s":"400","x":10,"y":0.94},{"s":"400","x":20,"y":0.95},{"s":"400","x":30,"y":0.99},{"s":"400","x":40,"y":1.0},{"s":"400","x":45,"y":0.96},{"s":"400","x":50,"y":0.97},{"s":"400","x":55,"y":0.99},{"s":"400","x":65,"y":0.99},{"s":"400","x":70,"y":0.96},{"s":"400","x":75,"y":0.85},{"s":"400","x":80,"y":0.63},{"s":"400","x":85,"y":0.46},{"s":"400","x":90,"y":0.28},{"s":"400","x":95,"y":0.11},{"s":"400","x":100,"y":0.0}
],
"bl2":[
{"s":"1100","x":10,"y":6.72},{"s":"1100","x":13,"y":6.47},{"s":"1100","x":16,"y":6.62},{"s":"1100","x":20,"y":6.89},{"s":"1100","x":23,"y":6.75},{"s":"1100","x":27,"y":6.46},{"s":"1100","x":30,"y":6.48},{"s":"1100","x":35,"y":6.58},{"s":"1100","x":40,"y":6.53},{"s":"1100","x":43,"y":6.44},{"s":"1100","x":50,"y":6.44},{"s":"1100","x":55,"y":6.33},{"s":"1100","x":60,"y":6.31},{"s":"1100","x":65,"y":6.27},{"s":"1100","x":70,"y":6.15},{"s":"1100","x":75,"y":6.12},{"s":"1100","x":80,"y":6.19},{"s":"1100","x":85,"y":6.15},{"s":"1100","x":90,"y":6.03},{"s":"1100","x":95,"y":6.0},{"s":"1100","x":100,"y":6.0},
{"s":"900","x":10,"y":5.87},{"s":"900","x":16,"y":6.0},{"s":"900","x":20,"y":5.96},{"s":"900","x":25,"y":5.87},{"s":"900","x":30,"y":5.81},{"s":"900","x":35,"y":5.82},{"s":"900","x":40,"y":5.87},{"s":"900","x":44,"y":5.76},{"s":"900","x":48,"y":5.62},{"s":"900","x":55,"y":5.68},{"s":"900","x":60,"y":5.62},{"s":"900","x":65,"y":5.51},{"s":"900","x":70,"y":5.44},{"s":"900","x":75,"y":5.48},{"s":"900","x":80,"y":5.34},{"s":"900","x":82,"y":5.2},{"s":"900","x":87,"y":5.25},{"s":"900","x":92,"y":5.13},{"s":"900","x":97,"y":5.0},{"s":"900","x":100,"y":5.01},
{"s":"800","x":10,"y":4.86},{"s":"800","x":14,"y":4.89},{"s":"800","x":17,"y":4.85},{"s":"800","x":20,"y":4.88},{"s":"800","x":25,"y":4.88},{"s":"800","x":30,"y":4.93},{"s":"800","x":40,"y":4.95},{"s":"800","x":48,"y":5.0},{"s":"800","x":55,"y":4.96},{"s":"800","x":60,"y":4.81},{"s":"800","x":65,"y":4.7},{"s":"800","x":70,"y":4.6},{"s":"800","x":75,"y":4.53},{"s":"800","x":78,"y":4.35},{"s":"800","x":85,"y":4.26},{"s":"800","x":90,"y":4.11},{"s":"800","x":95,"y":4.07},{"s":"800","x":100,"y":4.0},
{"s":"700","x":10,"y":3.8},{"s":"700","x":20,"y":3.77},{"s":"700","x":25,"y":3.77},{"s":"700","x":30,"y":3.8},{"s":"700","x":40,"y":3.89},{"s":"700","x":50,"y":4.0},{"s":"700","x":55,"y":3.96},{"s":"700","x":60,"y":3.82},{"s":"700","x":70,"y":3.58},{"s":"700","x":80,"y":3.3},{"s":"700","x":90,"y":3.12},{"s":"700","x":100,"y":3.04},
{"s":"600","x":10,"y":2.7},{"s":"600","x":20,"y":2.66},{"s":"600","x":30,"y":2.7},{"s":"600","x":40,"y":2.82},{"s":"600","x":50,"y":2.94},{"s":"600","x":57,"y":3.0},{"s":"600","x":62,"y":2.94},{"s":"600","x":70,"y":2.66},{"s":"600","x":80,"y":2.35},{"s":"600","x":90,"y":2.13},{"s":"600","x":100,"y":2.03},
{"s":"500","x":10,"y":1.6},{"s":"500","x":20,"y":1.56},{"s":"500","x":30,"y":1.61},{"s":"500","x":40,"y":1.68},{"s":"500","x":50,"y":1.86},{"s":"500","x":58,"y":2.0},{"s":"500","x":65,"y":1.96},{"s":"500","x":70,"y":1.75},{"s":"500","x":80,"y":1.44},{"s":"500","x":90,"y":1.19},{"s":"500","x":100,"y":1.06},
{"s":"400","x":10,"y":0.47},{"s":"400","x":20,"y":0.44},{"s":"400","x":30,"y":0.48},{"s":"400","x":40,"y":0.55},{"s":"400","x":45,"y":0.63},{"s":"400","x":50,"y":0.74},{"s":"400","x":60,"y":0.95},{"s":"400","x":65,"y":1.0},{"s":"400","x":70,"y":0.95},{"s":"400","x":80,"y":0.56},{"s":"400","x":90,"y":0.25},{"s":"400","x":100,"y":0.06}
],
"bm":[
{"s":"1100","x":10,"y":6},{"s":"1100","x":14,"y":6},{"s":"1100","x":15,"y":6.02},{"s":"1100","x":16,"y":6.12},{"s":"1100","x":17,"y":6.38},{"s":"1100","x":18,"y":6.64},{"s":"1100","x":19,"y":6.9},{"s":"1100","x":19.7,"y":7},{"s":"1100","x":20.3,"y":6.97},{"s":"1100","x":21,"y":6.8},{"s":"1100","x":22,"y":6.52},{"s":"1100","x":23,"y":6.25},{"s":"1100","x":24,"y":6.05},{"s":"1100","x":24.6,"y":6},{"s":"1100","x":100,"y":6},
{"s":"900","x":10,"y":5},{"s":"900","x":14,"y":5},{"s":"900","x":15,"y":5.02},{"s":"900","x":16,"y":5.12},{"s":"900","x":17,"y":5.38},{"s":"900","x":18,"y":5.64},{"s":"900","x":19,"y":5.9},{"s":"900","x":19.7,"y":6},{"s":"900","x":20.3,"y":5.97},{"s":"900","x":21,"y":5.8},{"s":"900","x":22,"y":5.52},{"s":"900","x":23,"y":5.25},{"s":"900","x":24,"y":5.05},{"s":"900","x":24.6,"y":5},{"s":"900","x":100,"y":5},
{"s":"800","x":10,"y":4},{"s":"800","x":14,"y":4},{"s":"800","x":15,"y":4.02},{"s":"800","x":16,"y":4.12},{"s":"800","x":17,"y":4.38},{"s":"800","x":18,"y":4.64},{"s":"800","x":19,"y":4.9},{"s":"800","x":19.7,"y":5},{"s":"800","x":20.3,"y":4.97},{"s":"800","x":21,"y":4.8},{"s":"800","x":22,"y":4.52},{"s":"800","x":23,"y":4.25},{"s":"800","x":24,"y":4.05},{"s":"800","x":24.6,"y":4},{"s":"800","x":100,"y":4},
{"s":"700","x":10,"y":3},{"s":"700","x":14,"y":3},{"s":"700","x":15,"y":3.02},{"s":"700","x":16,"y":3.12},{"s":"700","x":17,"y":3.38},{"s":"700","x":18,"y":3.64},{"s":"700","x":19,"y":3.9},{"s":"700","x":19.7,"y":4},{"s":"700","x":20.3,"y":3.97},{"s":"700","x":21,"y":3.8},{"s":"700","x":22,"y":3.52},{"s":"700","x":23,"y":3.25},{"s":"700","x":24,"y":3.05},{"s":"700","x":24.6,"y":3},{"s":"700","x":100,"y":3},
{"s":"600","x":10,"y":2},{"s":"600","x":14,"y":2},{"s":"600","x":15,"y":2.02},{"s":"600","x":16,"y":2.12},{"s":"600","x":17,"y":2.38},{"s":"600","x":18,"y":2.64},{"s":"600","x":19,"y":2.9},{"s":"600","x":19.7,"y":3},{"s":"600","x":20.3,"y":2.97},{"s":"600","x":21,"y":2.8},{"s":"600","x":22,"y":2.52},{"s":"600","x":23,"y":2.25},{"s":"600","x":24,"y":2.05},{"s":"600","x":24.6,"y":2},{"s":"600","x":100,"y":2},
{"s":"500","x":10,"y":1},{"s":"500","x":14,"y":1},{"s":"500","x":15,"y":1.02},{"s":"500","x":16,"y":1.12},{"s":"500","x":17,"y":1.38},{"s":"500","x":18,"y":1.64},{"s":"500","x":19,"y":1.9},{"s":"500","x":19.7,"y":2},{"s":"500","x":20.3,"y":1.97},{"s":"500","x":21,"y":1.8},{"s":"500","x":22,"y":1.52},{"s":"500","x":23,"y":1.25},{"s":"500","x":24,"y":1.05},{"s":"500","x":24.6,"y":1},{"s":"500","x":100,"y":1},
{"s":"400","x":10,"y":0},{"s":"400","x":14,"y":0},{"s":"400","x":15,"y":0.02},{"s":"400","x":16,"y":0.12},{"s":"400","x":17,"y":0.38},{"s":"400","x":18,"y":0.64},{"s":"400","x":19,"y":0.9},{"s":"400","x":19.7,"y":1},{"s":"400","x":20.3,"y":0.97},{"s":"400","x":21,"y":0.8},{"s":"400","x":22,"y":0.52},{"s":"400","x":23,"y":0.25},{"s":"400","x":24,"y":0.05},{"s":"400","x":24.6,"y":0},{"s":"400","x":96,"y":0}
],
"br1":[
{"s":"1100","x":10,"y":5.95},{"s":"1100","x":12,"y":6.26},{"s":"1100","x":15,"y":6.54},{"s":"1100","x":17,"y":6.6},{"s":"1100","x":19,"y":6.56},{"s":"1100","x":22,"y":6.33},{"s":"1100","x":25,"y":6.05},{"s":"1100","x":28,"y":5.93},{"s":"1100","x":31,"y":5.99},{"s":"1100","x":35,"y":6.08},{"s":"1100","x":40,"y":6.03},{"s":"1100","x":44,"y":6.06},{"s":"1100","x":48,"y":6.08},{"s":"1100","x":52,"y":6.03},{"s":"1100","x":56,"y":6.05},{"s":"1100","x":60,"y":6.06},{"s":"1100","x":64,"y":6.01},{"s":"1100","x":68,"y":6.06},{"s":"1100","x":72,"y":6.2},{"s":"1100","x":75,"y":6.3},{"s":"1100","x":78,"y":6.22},{"s":"1100","x":81,"y":6.08},{"s":"1100","x":84,"y":6.03},{"s":"1100","x":90,"y":6.02},{"s":"1100","x":100,"y":6.03},
{"s":"900","x":10,"y":4.85},{"s":"900","x":12,"y":5.2},{"s":"900","x":15,"y":5.44},{"s":"900","x":17,"y":5.51},{"s":"900","x":20,"y":5.44},{"s":"900","x":23,"y":5.2},{"s":"900","x":27,"y":5.02},{"s":"900","x":30,"y":5.06},{"s":"900","x":35,"y":5.16},{"s":"900","x":40,"y":5.09},{"s":"900","x":45,"y":5.09},{"s":"900","x":50,"y":5.11},{"s":"900","x":55,"y":5.09},{"s":"900","x":60,"y":5.11},{"s":"900","x":64,"y":5.16},{"s":"900","x":68,"y":5.23},{"s":"900","x":72,"y":5.16},{"s":"900","x":78,"y":5.07},{"s":"900","x":90,"y":5.06},{"s":"900","x":100,"y":5.06},
{"s":"800","x":10,"y":4.0},{"s":"800","x":14,"y":4.01},{"s":"800","x":15,"y":4.1},{"s":"800","x":16,"y":4.49},{"s":"800","x":17,"y":4.95},{"s":"800","x":18,"y":4.99},{"s":"800","x":19,"y":4.74},{"s":"800","x":20,"y":4.35},{"s":"800","x":21,"y":4.06},{"s":"800","x":22,"y":4.01},{"s":"800","x":50,"y":4.01},{"s":"800","x":52,"y":4.06},{"s":"800","x":53,"y":4.1},{"s":"800","x":55,"y":4.05},{"s":"800","x":57,"y":4.01},{"s":"800","x":60,"y":4.0},{"s":"800","x":100,"y":4.0},
{"s":"700","x":10,"y":3.0},{"s":"700","x":15,"y":3.05},{"s":"700","x":16,"y":3.3},{"s":"700","x":17,"y":3.65},{"s":"700","x":18,"y":3.98},{"s":"700","x":19,"y":3.93},{"s":"700","x":20,"y":3.51},{"s":"700","x":21,"y":3.05},{"s":"700","x":22,"y":3.01},{"s":"700","x":30,"y":3.01},{"s":"700","x":33,"y":3.08},{"s":"700","x":36,"y":3.01},{"s":"700","x":46,"y":3.01},{"s":"700","x":47,"y":3.19},{"s":"700","x":50,"y":3.26},{"s":"700","x":53,"y":3.33},{"s":"700","x":54,"y":3.1},{"s":"700","x":55,"y":3.0},{"s":"700","x":100,"y":3.0},
{"s":"600","x":10,"y":2.0},{"s":"600","x":14,"y":2.03},{"s":"600","x":16,"y":2.38},{"s":"600","x":17,"y":2.8},{"s":"600","x":18,"y":3.0},{"s":"600","x":19,"y":2.52},{"s":"600","x":20,"y":2.1},{"s":"600","x":21,"y":2.01},{"s":"600","x":30,"y":2.01},{"s":"600","x":33,"y":2.06},{"s":"600","x":36,"y":2.01},{"s":"600","x":43,"y":2.03},{"s":"600","x":46,"y":2.11},{"s":"600","x":49,"y":2.01},{"s":"600","x":80,"y":2.02},{"s":"600","x":100,"y":2.0},
{"s":"500","x":10,"y":1.13},{"s":"500","x":12,"y":1.03},{"s":"500","x":15,"y":1.05},{"s":"500","x":16,"y":1.4},{"s":"500","x":17,"y":1.82},{"s":"500","x":18,"y":1.98},{"s":"500","x":19,"y":1.85},{"s":"500","x":20,"y":1.19},{"s":"500","x":21,"y":1.02},{"s":"500","x":25,"y":1.0},{"s":"500","x":28,"y":1.19},{"s":"500","x":30,"y":1.33},{"s":"500","x":32,"y":1.12},{"s":"500","x":35,"y":1.0},{"s":"500","x":41,"y":1.04},{"s":"500","x":43,"y":1.12},{"s":"500","x":45,"y":1.01},{"s":"500","x":52,"y":1.06},{"s":"500","x":55,"y":1.03},{"s":"500","x":65,"y":1.0},{"s":"500","x":68,"y":1.08},{"s":"500","x":72,"y":1.03},{"s":"500","x":100,"y":1.0},
{"s":"400","x":10,"y":0.63},{"s":"400","x":12,"y":0.35},{"s":"400","x":14,"y":0.0},{"s":"400","x":16,"y":0.56},{"s":"400","x":17,"y":0.99},{"s":"400","x":18,"y":0.88},{"s":"400","x":19,"y":0.39},{"s":"400","x":20,"y":0.07},{"s":"400","x":21,"y":0.0},{"s":"400","x":25,"y":0.07},{"s":"400","x":27,"y":0.25},{"s":"400","x":28,"y":0.3},{"s":"400","x":31,"y":0.04},{"s":"400","x":33,"y":0.0},{"s":"400","x":36,"y":0.11},{"s":"400","x":38,"y":0.14},{"s":"400","x":40,"y":0.04},{"s":"400","x":42,"y":0.0},{"s":"400","x":45,"y":0.07},{"s":"400","x":50,"y":0.01},{"s":"400","x":60,"y":0.04},{"s":"400","x":100,"y":0.02}
],
"br2":[
{"s":"1100","x":30,"y":6.12},{"s":"1100","x":32,"y":6.05},{"s":"1100","x":35,"y":6.12},{"s":"1100","x":40,"y":6.19},{"s":"1100","x":45,"y":6.25},{"s":"1100","x":50,"y":6.18},{"s":"1100","x":55,"y":6.06},{"s":"1100","x":57,"y":6.03},{"s":"1100","x":60,"y":6.08},{"s":"1100","x":63,"y":6.2},{"s":"1100","x":65,"y":6.2},{"s":"1100","x":67,"y":6.15},{"s":"1100","x":69,"y":6.19},{"s":"1100","x":71,"y":6.54},{"s":"1100","x":73,"y":6.89},{"s":"1100","x":75,"y":7.1},{"s":"1100","x":77,"y":6.96},{"s":"1100","x":79,"y":6.58},{"s":"1100","x":81,"y":6.19},{"s":"1100","x":83,"y":6.03},{"s":"1100","x":90,"y":6.01},{"s":"1100","x":100,"y":6.01},
{"s":"900","x":30,"y":5.44},{"s":"900","x":35,"y":5.46},{"s":"900","x":40,"y":5.44},{"s":"900","x":45,"y":5.46},{"s":"900","x":50,"y":5.42},{"s":"900","x":55,"y":5.37},{"s":"900","x":58,"y":5.32},{"s":"900","x":60,"y":5.39},{"s":"900","x":63,"y":5.69},{"s":"900","x":66,"y":5.9},{"s":"900","x":68,"y":5.97},{"s":"900","x":70,"y":5.92},{"s":"900","x":73,"y":5.65},{"s":"900","x":76,"y":5.44},{"s":"900","x":80,"y":5.37},{"s":"900","x":85,"y":5.37},{"s":"900","x":90,"y":5.3},{"s":"900","x":95,"y":5.2},{"s":"900","x":100,"y":5.25},
{"s":"800","x":30,"y":4.06},{"s":"800","x":40,"y":4.07},{"s":"800","x":50,"y":4.06},{"s":"800","x":52,"y":4.1},{"s":"800","x":53,"y":4.63},{"s":"800","x":54,"y":4.99},{"s":"800","x":55,"y":4.85},{"s":"800","x":57,"y":4.49},{"s":"800","x":59,"y":4.21},{"s":"800","x":60,"y":4.08},{"s":"800","x":65,"y":4.06},{"s":"800","x":100,"y":4.07},
{"s":"700","x":30,"y":3.05},{"s":"700","x":33,"y":3.23},{"s":"700","x":35,"y":3.16},{"s":"700","x":38,"y":3.0},{"s":"700","x":45,"y":3.01},{"s":"700","x":47,"y":3.08},{"s":"700","x":48,"y":3.65},{"s":"700","x":50,"y":3.79},{"s":"700","x":52,"y":3.99},{"s":"700","x":53,"y":3.65},{"s":"700","x":54,"y":3.05},{"s":"700","x":55,"y":3.03},{"s":"700","x":100,"y":3.03},
{"s":"600","x":30,"y":2.1},{"s":"600","x":31,"y":2.45},{"s":"600","x":33,"y":2.58},{"s":"600","x":35,"y":2.45},{"s":"600","x":36,"y":2.03},{"s":"600","x":42,"y":2.01},{"s":"600","x":43,"y":2.38},{"s":"600","x":44,"y":2.91},{"s":"600","x":45,"y":3.07},{"s":"600","x":46,"y":2.94},{"s":"600","x":48,"y":2.38},{"s":"600","x":49,"y":2.03},{"s":"600","x":58,"y":2.01},{"s":"600","x":60,"y":2.13},{"s":"600","x":62,"y":2.04},{"s":"600","x":78,"y":2.01},{"s":"600","x":82,"y":2.1},{"s":"600","x":85,"y":2.2},{"s":"600","x":90,"y":2.11},{"s":"600","x":95,"y":2.06},{"s":"600","x":100,"y":2.01},
{"s":"500","x":30,"y":1.96},{"s":"500","x":32,"y":1.33},{"s":"500","x":33,"y":1.05},{"s":"500","x":36,"y":1.03},{"s":"500","x":39,"y":1.15},{"s":"500","x":41,"y":1.33},{"s":"500","x":42,"y":1.37},{"s":"500","x":44,"y":1.12},{"s":"500","x":46,"y":1.03},{"s":"500","x":50,"y":1.08},{"s":"500","x":52,"y":1.19},{"s":"500","x":54,"y":1.08},{"s":"500","x":58,"y":1.03},{"s":"500","x":64,"y":1.08},{"s":"500","x":66,"y":1.26},{"s":"500","x":70,"y":1.23},{"s":"500","x":74,"y":1.05},{"s":"500","x":80,"y":1.03},{"s":"500","x":90,"y":1.05},{"s":"500","x":100,"y":1.01},
{"s":"400","x":30,"y":0.77},{"s":"400","x":31,"y":0.28},{"s":"400","x":32,"y":0.07},{"s":"400","x":33,"y":0.1},{"s":"400","x":35,"y":0.42},{"s":"400","x":37,"y":0.85},{"s":"400","x":38,"y":0.85},{"s":"400","x":39,"y":0.35},{"s":"400","x":40,"y":0.04},{"s":"400","x":41,"y":0.07},{"s":"400","x":43,"y":0.35},{"s":"400","x":44,"y":0.39},{"s":"400","x":46,"y":0.21},{"s":"400","x":48,"y":0.07},{"s":"400","x":50,"y":0.07},{"s":"400","x":52,"y":0.18},{"s":"400","x":53,"y":0.25},{"s":"400","x":56,"y":0.25},{"s":"400","x":58,"y":0.21},{"s":"400","x":59,"y":0.04},{"s":"400","x":62,"y":0.07},{"s":"400","x":65,"y":0.25},{"s":"400","x":66,"y":0.25},{"s":"400","x":68,"y":0.14},{"s":"400","x":72,"y":0.07},{"s":"400","x":75,"y":0.02},{"s":"400","x":100,"y":0.04}
]
},
"spacing":5,
"resolve":{"scale":{"color":"independent"}},
"vconcat":[
{"spacing":7,"bounds":"flush","resolve":{"scale":{"color":"independent"}},"hconcat":[
 {"width":396,"height":299,"data":{"name":"tl"},"layer":[
  {"data":{"values":[{}]},"mark":{"type":"rect","color":"white"},"encoding":{"x":{"datum":694,"type":"quantitative","axis":null,"scale":{"domain":[300,1200],"nice":false,"zero":false}},"x2":{"datum":888},"y":{"datum":43,"type":"quantitative","axis":null,"scale":{"domain":[0,104.5],"nice":false,"zero":false}},"y2":{"datum":88}}},
  {"transform":[{"filter":"datum.k == 'R'"}],"mark":{"type":"line","interpolate":"monotone","clip":true,"strokeWidth":1.6},"encoding":{
   "x":{"field":"x","type":"quantitative","scale":{"domain":[300,1200],"nice":false,"zero":false},"axis":{"orient":"top","values":[300,400,500,600,700,800,900,1000,1100,1200],"labelExpr":"datum.value % 200 == 100 ? datum.value : ''","labelPadding":12,"title":"Wavelength (nm)","titlePadding":12}},
   "y":{"field":"y","type":"quantitative","scale":{"domain":[0,104.5],"nice":false,"zero":false},"axis":{"orient":"left","values":[10,20,30,40,50,60,70,80,90,100],"labelExpr":"datum.value % 20 == 0 ? datum.value : ''","grid":true,"title":"— R, ····Haze (%)","titlePadding":3}},
   "color":{"field":"s","type":"nominal","scale":{"domain":["5","6.5","8","9.5","11"],"range":["#a3d98f","#5cb947","#2ea84a","#17652f","#151515"]},"legend":null}}},
  {"transform":[{"filter":"datum.k == 'H'"}],"mark":{"type":"line","interpolate":"monotone","clip":true,"strokeWidth":2.4,"strokeDash":[5,3]},"encoding":{
   "x":{"field":"x","type":"quantitative","axis":null},"y":{"field":"y","type":"quantitative","axis":null},
   "color":{"field":"s","type":"nominal","scale":{"domain":["5","6.5","8","9.5","11"],"range":["#a3d98f","#5cb947","#2ea84a","#17652f","#151515"]},"legend":null}}},
  {"mark":{"type":"point","opacity":0},"encoding":{
   "x":{"field":"x","type":"quantitative","axis":{"orient":"bottom","values":[300,400,500,600,700,800,900,1000,1100,1200],"labels":false,"title":null}},
   "y":{"field":"y","type":"quantitative","axis":{"orient":"right","values":[10,20,30,40,50,60,70,80,90,100],"labels":false,"title":null}}}},
  {"data":{"values":[{}]},"mark":{"type":"text","text":"|","opacity":0,"align":"left"},"encoding":{"x":{"datum":152.27,"type":"quantitative","axis":null},"y":{"datum":50,"type":"quantitative","axis":null}}},
  {"data":{"values":[{}]},"mark":{"type":"text","text":"T","color":"#1a8f47","fontSize":22,"fontWeight":"bold","align":"center"},"encoding":{"x":{"datum":354,"type":"quantitative","axis":null},"y":{"datum":123.4,"type":"quantitative","axis":null}}},
  {"data":{"values":[{}]},"mark":{"type":"text","text":"sp","color":"#1a8f47","fontSize":16,"fontWeight":"bold","align":"left"},"encoding":{"x":{"datum":368,"type":"quantitative","axis":null},"y":{"datum":120.4,"type":"quantitative","axis":null}}},
  {"data":{"values":[{}]},"mark":{"type":"text","text":"Etch time (mins)","color":"#222","align":"right"},"encoding":{"x":{"datum":875,"type":"quantitative","axis":null},"y":{"datum":84.3,"type":"quantitative","axis":null}}},
  {"data":{"values":[{}]},"mark":{"type":"text","text":"5","color":"#a3d98f","fontWeight":"bold","align":"right"},"encoding":{"x":{"datum":873,"type":"quantitative","axis":null},"y":{"datum":77,"type":"quantitative","axis":null}}},
  {"data":{"values":[{}]},"mark":{"type":"text","text":"6.5","color":"#5cb947","fontWeight":"bold","align":"right"},"encoding":{"x":{"datum":873,"type":"quantitative","axis":null},"y":{"datum":69.5,"type":"quantitative","axis":null}}},
  {"data":{"values":[{}]},"mark":{"type":"text","text":"8","color":"#2ea84a","fontWeight":"bold","align":"right"},"encoding":{"x":{"datum":873,"type":"quantitative","axis":null},"y":{"datum":61.6,"type":"quantitative","axis":null}}},
  {"data":{"values":[{}]},"mark":{"type":"text","text":"9.5","color":"#17652f","fontWeight":"bold","align":"right"},"encoding":{"x":{"datum":873,"type":"quantitative","axis":null},"y":{"datum":54.2,"type":"quantitative","axis":null}}},
  {"data":{"values":[{}]},"mark":{"type":"text","text":"11","color":"#151515","fontWeight":"bold","align":"right"},"encoding":{"x":{"datum":873,"type":"quantitative","axis":null},"y":{"datum":46.5,"type":"quantitative","axis":null}}}
 ]},
 {"width":396,"height":299,"data":{"name":"tm"},"layer":[
  {"data":{"values":[{}]},"mark":{"type":"rect","color":"white"},"encoding":{"x":{"datum":704,"type":"quantitative","axis":null,"scale":{"domain":[300,1200],"nice":false,"zero":false}},"x2":{"datum":912},"y":{"datum":47,"type":"quantitative","axis":null,"scale":{"domain":[0,104.5],"nice":false,"zero":false}},"y2":{"datum":96}}},
  {"transform":[{"filter":"datum.k == 'R'"}],"mark":{"type":"line","interpolate":"monotone","clip":true,"strokeWidth":1.6},"encoding":{
   "x":{"field":"x","type":"quantitative","scale":{"domain":[300,1200],"nice":false,"zero":false},"axis":{"orient":"top","values":[300,400,500,600,700,800,900,1000,1100,1200],"labelExpr":"datum.value % 200 == 100 ? datum.value : ''","labelPadding":12,"title":"Wavelength (nm)","titlePadding":12}},
   "y":{"field":"y","type":"quantitative","scale":{"domain":[0,104.5],"nice":false,"zero":false},"axis":{"orient":"left","values":[10,20,30,40,50,60,70,80,90,100],"labels":false,"grid":true,"title":null}},
   "color":{"field":"s","type":"nominal","scale":{"domain":["Flat","0","750","1250","1500"],"range":["#f4a1a1","#f03c3c","#e01b22","#9b1b1f","#151515"]},"legend":null}}},
  {"transform":[{"filter":"datum.k == 'H'"}],"mark":{"type":"line","interpolate":"monotone","clip":true,"strokeWidth":2.6,"strokeDash":[6,3]},"encoding":{
   "x":{"field":"x","type":"quantitative","axis":null},"y":{"field":"y","type":"quantitative","axis":null},
   "color":{"field":"s","type":"nominal","scale":{"domain":["Flat","0","750","1250","1500"],"range":["#f4a1a1","#f03c3c","#e01b22","#9b1b1f","#151515"]},"legend":null}}},
  {"mark":{"type":"point","opacity":0},"encoding":{
   "x":{"field":"x","type":"quantitative","axis":{"orient":"bottom","values":[300,400,500,600,700,800,900,1000,1100,1200],"labels":false,"title":null}},
   "y":{"field":"y","type":"quantitative","axis":{"orient":"right","values":[10,20,30,40,50,60,70,80,90,100],"labels":false,"title":null}}}},
  {"data":{"values":[{}]},"mark":{"type":"text","text":"T","color":"#ee2a2a","fontSize":22,"fontWeight":"bold","align":"center"},"encoding":{"x":{"datum":347,"type":"quantitative","axis":null},"y":{"datum":123.4,"type":"quantitative","axis":null}}},
  {"data":{"values":[{}]},"mark":{"type":"text","text":"sac","color":"#ee2a2a","fontSize":16,"fontWeight":"bold","align":"left"},"encoding":{"x":{"datum":361,"type":"quantitative","axis":null},"y":{"datum":120.4,"type":"quantitative","axis":null}}},
  {"data":{"values":[{}]},"mark":{"type":"text","text":"d","color":"#222","fontStyle":"italic","align":"left"},"encoding":{"x":{"datum":714,"type":"quantitative","axis":null},"y":{"datum":92.1,"type":"quantitative","axis":null}}},
  {"data":{"values":[{}]},"mark":{"type":"text","text":"a-Si","color":"#222","fontSize":13,"align":"left"},"encoding":{"x":{"datum":736,"type":"quantitative","axis":null},"y":{"datum":90.2,"type":"quantitative","axis":null}}},
  {"data":{"values":[{}]},"mark":{"type":"text","text":"(nm):","color":"#222","align":"left"},"encoding":{"x":{"datum":800,"type":"quantitative","axis":null},"y":{"datum":92.1,"type":"quantitative","axis":null}}},
  {"data":{"values":[{}]},"mark":{"type":"text","text":"Flat","color":"#f4a1a1","fontWeight":"bold","align":"right"},"encoding":{"x":{"datum":895,"type":"quantitative","axis":null},"y":{"datum":84,"type":"quantitative","axis":null}}},
  {"data":{"values":[{}]},"mark":{"type":"text","text":"0","color":"#f03c3c","fontWeight":"bold","align":"right"},"encoding":{"x":{"datum":895,"type":"quantitative","axis":null},"y":{"datum":76.1,"type":"quantitative","axis":null}}},
  {"data":{"values":[{}]},"mark":{"type":"text","text":"750","color":"#e01b22","fontWeight":"bold","align":"right"},"encoding":{"x":{"datum":895,"type":"quantitative","axis":null},"y":{"datum":68.5,"type":"quantitative","axis":null}}},
  {"data":{"values":[{}]},"mark":{"type":"text","text":"1250","color":"#9b1b1f","fontWeight":"bold","align":"right"},"encoding":{"x":{"datum":895,"type":"quantitative","axis":null},"y":{"datum":61,"type":"quantitative","axis":null}}},
  {"data":{"values":[{}]},"mark":{"type":"text","text":"1500","color":"#151515","fontWeight":"bold","align":"right"},"encoding":{"x":{"datum":895,"type":"quantitative","axis":null},"y":{"datum":53.6,"type":"quantitative","axis":null}}}
 ]},
 {"width":396,"height":299,"data":{"name":"tr"},"layer":[
  {"data":{"values":[{}]},"mark":{"type":"rect","color":"white"},"encoding":{"x":{"datum":500,"type":"quantitative","axis":null,"scale":{"domain":[300,1200],"nice":false,"zero":false}},"x2":{"datum":689},"y":{"datum":50,"type":"quantitative","axis":null,"scale":{"domain":[0,104.5],"nice":false,"zero":false}},"y2":{"datum":86}}},
  {"data":{"values":[{}]},"mark":{"type":"rect","color":"white"},"encoding":{"x":{"datum":358,"type":"quantitative","axis":null},"x2":{"datum":689},"y":{"datum":67.5,"type":"quantitative","axis":null},"y2":{"datum":77.5}}},
  {"data":{"values":[{}]},"mark":{"type":"rect","color":"white"},"encoding":{"x":{"datum":848,"type":"quantitative","axis":null},"x2":{"datum":1053},"y":{"datum":28,"type":"quantitative","axis":null},"y2":{"datum":86}}},
  {"transform":[{"filter":"datum.k == 'R'"}],"mark":{"type":"line","interpolate":"monotone","clip":true,"strokeWidth":1.6},"encoding":{
   "x":{"field":"x","type":"quantitative","scale":{"domain":[300,1200],"nice":false,"zero":false},"axis":{"orient":"top","values":[300,400,500,600,700,800,900,1000,1100,1200],"labelExpr":"datum.value % 200 == 0 ? datum.value : ''","labelPadding":12,"title":"Wavelength (nm)","titlePadding":12}},
   "y":{"field":"y","type":"quantitative","scale":{"domain":[0,104.5],"nice":false,"zero":false},"axis":{"orient":"left","values":[10,20,30,40,50,60,70,80,90,100],"labels":false,"grid":true,"title":null}},
   "color":{"field":"s","type":"nominal","scale":{"domain":["P2-12","P2-16","8","10","12","14","16"],"range":["#c48fcf","#8b3fa3","#8990d4","#3a55b8","#2846a6","#1d2a7c","#151515"]},"legend":null}}},
  {"transform":[{"filter":"datum.k == 'R2'"}],"mark":{"type":"line","interpolate":"monotone","clip":true,"strokeWidth":2.2,"strokeDash":[7,2,2,2]},"encoding":{
   "x":{"field":"x","type":"quantitative","axis":null},"y":{"field":"y","type":"quantitative","axis":null},
   "color":{"field":"s","type":"nominal","scale":{"domain":["P2-12","P2-16","8","10","12","14","16"],"range":["#c48fcf","#8b3fa3","#8990d4","#3a55b8","#2846a6","#1d2a7c","#151515"]},"legend":null}}},
  {"transform":[{"filter":"datum.k == 'H'"}],"mark":{"type":"line","interpolate":"monotone","clip":true,"strokeWidth":2.4,"strokeDash":[5,3]},"encoding":{
   "x":{"field":"x","type":"quantitative","axis":null},"y":{"field":"y","type":"quantitative","axis":null},
   "color":{"field":"s","type":"nominal","scale":{"domain":["P2-12","P2-16","8","10","12","14","16"],"range":["#c48fcf","#8b3fa3","#8990d4","#3a55b8","#2846a6","#1d2a7c","#151515"]},"legend":null}}},
  {"transform":[{"filter":"datum.k == 'H2'"}],"mark":{"type":"line","interpolate":"monotone","clip":true,"strokeWidth":2.6,"strokeDash":[2,3]},"encoding":{
   "x":{"field":"x","type":"quantitative","axis":null},"y":{"field":"y","type":"quantitative","axis":null},
   "color":{"field":"s","type":"nominal","scale":{"domain":["P2-12","P2-16","8","10","12","14","16"],"range":["#c48fcf","#8b3fa3","#8990d4","#3a55b8","#2846a6","#1d2a7c","#151515"]},"legend":null}}},
  {"mark":{"type":"point","opacity":0},"encoding":{
   "x":{"field":"x","type":"quantitative","axis":{"orient":"bottom","values":[300,400,500,600,700,800,900,1000,1100,1200],"labels":false,"title":null}},
   "y":{"field":"y","type":"quantitative","axis":{"orient":"right","values":[10,20,30,40,50,60,70,80,90,100],"labelExpr":"datum.value % 20 == 0 ? datum.value : ''","labelPadding":14,"title":"— R, ···· Haze (%)","titlePadding":-6}}}},
  {"data":{"values":[{}]},"mark":{"type":"text","text":"T","color":"#2b3a98","fontSize":22,"fontWeight":"bold","align":"center"},"encoding":{"x":{"datum":351,"type":"quantitative","axis":null},"y":{"datum":123.4,"type":"quantitative","axis":null}}},
  {"data":{"values":[{}]},"mark":{"type":"text","text":"honey","color":"#2b3a98","fontSize":16,"fontWeight":"bold","align":"left"},"encoding":{"x":{"datum":364,"type":"quantitative","axis":null},"y":{"datum":120.4,"type":"quantitative","axis":null}}},
  {"data":{"values":[{}]},"mark":{"type":"text","text":"(","color":"#222","align":"left"},"encoding":{"x":{"datum":514,"type":"quantitative","axis":null},"y":{"datum":81,"type":"quantitative","axis":null}}},
  {"data":{"values":[{}]},"mark":{"type":"text","text":"P","color":"#222","fontStyle":"italic","align":"left"},"encoding":{"x":{"datum":530,"type":"quantitative","axis":null},"y":{"datum":81,"type":"quantitative","axis":null}}},
  {"data":{"values":[{}]},"mark":{"type":"text","text":"=2   m)","color":"#222","align":"left"},"encoding":{"x":{"datum":555,"type":"quantitative","axis":null},"y":{"datum":81,"type":"quantitative","axis":null}}},
  {"data":{"values":[{}]},"mark":{"type":"text","text":"(","color":"#222","align":"left"},"encoding":{"x":{"datum":881,"type":"quantitative","axis":null},"y":{"datum":81,"type":"quantitative","axis":null}}},
  {"data":{"values":[{}]},"mark":{"type":"text","text":"P","color":"#222","fontStyle":"italic","align":"left"},"encoding":{"x":{"datum":897,"type":"quantitative","axis":null},"y":{"datum":81,"type":"quantitative","axis":null}}},
  {"data":{"values":[{}]},"mark":{"type":"text","text":"=3   m)","color":"#222","align":"left"},"encoding":{"x":{"datum":922,"type":"quantitative","axis":null},"y":{"datum":81,"type":"quantitative","axis":null}}},
  {"data":{"values":[{}]},"mark":{"type":"text","text":"Etch time (mins):","color":"#222","align":"right"},"encoding":{"x":{"datum":672,"type":"quantitative","axis":null},"y":{"datum":72.5,"type":"quantitative","axis":null}}},
  {"data":{"values":[{}]},"mark":{"type":"text","text":"Etch time (mins):","color":"#222","align":"right"},"encoding":{"x":{"datum":1037,"type":"quantitative","axis":null},"y":{"datum":72.5,"type":"quantitative","axis":null}}},
  {"data":{"values":[{}]},"mark":{"type":"text","text":"12","color":"#c48fcf","fontWeight":"bold","align":"right"},"encoding":{"x":{"datum":661,"type":"quantitative","axis":null},"y":{"datum":64.4,"type":"quantitative","axis":null}}},
  {"data":{"values":[{}]},"mark":{"type":"text","text":"16","color":"#8b3fa3","fontWeight":"bold","align":"right"},"encoding":{"x":{"datum":661,"type":"quantitative","axis":null},"y":{"datum":56,"type":"quantitative","axis":null}}},
  {"data":{"values":[{}]},"mark":{"type":"text","text":"8","color":"#8990d4","fontWeight":"bold","align":"right"},"encoding":{"x":{"datum":1028,"type":"quantitative","axis":null},"y":{"datum":64.7,"type":"quantitative","axis":null}}},
  {"data":{"values":[{}]},"mark":{"type":"text","text":"10","color":"#3a55b8","fontWeight":"bold","align":"right"},"encoding":{"x":{"datum":1028,"type":"quantitative","axis":null},"y":{"datum":56.5,"type":"quantitative","axis":null}}},
  {"data":{"values":[{}]},"mark":{"type":"text","text":"12","color":"#2846a6","fontWeight":"bold","align":"right"},"encoding":{"x":{"datum":1028,"type":"quantitative","axis":null},"y":{"datum":48.6,"type":"quantitative","axis":null}}},
  {"data":{"values":[{}]},"mark":{"type":"text","text":"14","color":"#1d2a7c","fontWeight":"bold","align":"right"},"encoding":{"x":{"datum":1028,"type":"quantitative","axis":null},"y":{"datum":40.8,"type":"quantitative","axis":null}}},
  {"data":{"values":[{}]},"mark":{"type":"text","text":"16","color":"#151515","fontWeight":"bold","align":"right"},"encoding":{"x":{"datum":1028,"type":"quantitative","axis":null},"y":{"datum":32.8,"type":"quantitative","axis":null}}}
 ]}
]},
{"spacing":0,"bounds":"flush","resolve":{"scale":{"color":"independent"}},"hconcat":[
  {"width":198,"height":341,"data":{"name":"bl1"},"layer":[
   {"mark":{"type":"line","interpolate":"monotone","clip":true,"strokeWidth":1.5},"encoding":{
    "x":{"field":"x","type":"quantitative","scale":{"domain":[10,100],"nice":false,"zero":false},"axis":{"orient":"bottom","values":[10,20,30,40,50,60,70,80,90,100],"labelExpr":"datum.value % 20 == 10 && datum.value < 100 ? datum.value : ''","labelPadding":12,"title":null}},
    "y":{"field":"y","type":"quantitative","scale":{"domain":[0,7.22],"nice":false,"zero":false},"axis":{"orient":"left","values":[1,2,3,4,5,6,7],"labels":false,"grid":true,"gridDash":[3,2],"title":"Norm. Intensity (-)","titlePadding":11}},
    "color":{"field":"s","type":"nominal","scale":{"domain":["400","500","600","700","800","900","1100"],"range":["#2b3a9e","#178a3c","#f2df00","#ee2226","#8e1b1b","#5a1212","#151515"]},"legend":null}}},
   {"mark":{"type":"point","opacity":0},"encoding":{
    "x":{"field":"x","type":"quantitative","axis":{"orient":"top","values":[10,20,30,40,50,60,70,80,90,100],"labels":false,"title":null}},
    "y":{"field":"y","type":"quantitative","axis":{"orient":"right","values":[1,2,3,4,5,6,7],"labels":false,"title":null}}}},
   {"data":{"values":[{}]},"mark":{"type":"text","text":"|","opacity":0,"align":"left"},"encoding":{"x":{"datum":-19.545,"type":"quantitative","axis":null},"y":{"datum":3.5,"type":"quantitative","axis":null}}},
   {"data":{"values":[{}]},"mark":{"type":"text","text":"6.5mins","color":"#222","align":"right"},"encoding":{"x":{"datum":95.6,"type":"quantitative","axis":null},"y":{"datum":6.8,"type":"quantitative","axis":null}}},
   {"data":{"values":[{}]},"mark":{"type":"text","text":"θ","color":"#222","fontSize":21,"fontStyle":"italic","align":"left"},"encoding":{"x":{"datum":41.8,"type":"quantitative","axis":null},"y":{"datum":-0.85,"type":"quantitative","axis":null}}},
   {"data":{"values":[{}]},"mark":{"type":"text","text":"det","color":"#222","fontSize":15,"align":"left"},"encoding":{"x":{"datum":46.6,"type":"quantitative","axis":null},"y":{"datum":-0.98,"type":"quantitative","axis":null}}},
   {"data":{"values":[{}]},"mark":{"type":"text","text":"(°)","color":"#222","fontSize":21,"align":"left"},"encoding":{"x":{"datum":58.5,"type":"quantitative","axis":null},"y":{"datum":-0.85,"type":"quantitative","axis":null}}}
  ]},
  {"width":198,"height":341,"data":{"name":"bl2"},"layer":[
   {"mark":{"type":"line","interpolate":"monotone","clip":true,"strokeWidth":1.5},"encoding":{
    "x":{"field":"x","type":"quantitative","scale":{"domain":[10,100],"nice":false,"zero":false},"axis":{"orient":"bottom","values":[10,20,30,40,50,60,70,80,90,100],"labelExpr":"datum.value % 20 == 0 ? datum.value : ''","labelPadding":12,"title":null}},
    "y":{"field":"y","type":"quantitative","scale":{"domain":[0,7.22],"nice":false,"zero":false},"axis":{"orient":"left","values":[1,2,3,4,5,6,7],"labels":false,"grid":true,"gridDash":[3,2],"title":null}},
    "color":{"field":"s","type":"nominal","scale":{"domain":["400","500","600","700","800","900","1100"],"range":["#2b3a9e","#178a3c","#f2df00","#ee2226","#8e1b1b","#5a1212","#151515"]},"legend":null}}},
   {"mark":{"type":"point","opacity":0},"encoding":{
    "x":{"field":"x","type":"quantitative","axis":{"orient":"top","values":[10,20,30,40,50,60,70,80,90,100],"labels":false,"title":null}},
    "y":{"field":"y","type":"quantitative","axis":{"orient":"right","values":[1,2,3,4,5,6,7],"labels":false,"title":null}}}},
   {"data":{"values":[{}]},"mark":{"type":"text","text":"11mins","color":"#222","align":"right"},"encoding":{"x":{"datum":95,"type":"quantitative","axis":null},"y":{"datum":6.8,"type":"quantitative","axis":null}}},
   {"data":{"values":[{}]},"mark":{"type":"text","text":"θ","color":"#222","fontSize":21,"fontStyle":"italic","align":"left"},"encoding":{"x":{"datum":41.8,"type":"quantitative","axis":null},"y":{"datum":-0.85,"type":"quantitative","axis":null}}},
   {"data":{"values":[{}]},"mark":{"type":"text","text":"det","color":"#222","fontSize":15,"align":"left"},"encoding":{"x":{"datum":46.6,"type":"quantitative","axis":null},"y":{"datum":-0.98,"type":"quantitative","axis":null}}},
   {"data":{"values":[{}]},"mark":{"type":"text","text":"(°)","color":"#222","fontSize":21,"align":"left"},"encoding":{"x":{"datum":58.5,"type":"quantitative","axis":null},"y":{"datum":-0.85,"type":"quantitative","axis":null}}}
  ]},
  {"width":7,"height":341,"view":{"stroke":null},"data":{"values":[{}]},"mark":{"type":"point","opacity":0},"encoding":{"x":{"datum":0,"type":"quantitative","axis":null},"y":{"datum":0,"type":"quantitative","axis":null}}},
  {"width":396,"height":341,"data":{"name":"bm"},"layer":[
   {"mark":{"type":"line","interpolate":"monotone","clip":true,"strokeWidth":1.5},"encoding":{
    "x":{"field":"x","type":"quantitative","scale":{"domain":[10,100],"nice":false,"zero":false},"axis":{"orient":"bottom","values":[10,20,30,40,50,60,70,80,90,100],"labelExpr":"datum.value >= 20 && datum.value <= 90 ? datum.value : ''","labelPadding":12,"title":null}},
    "y":{"field":"y","type":"quantitative","scale":{"domain":[0,7.22],"nice":false,"zero":false},"axis":{"orient":"left","values":[1,2,3,4,5,6,7],"labels":false,"grid":true,"gridDash":[3,2],"title":null}},
    "color":{"field":"s","type":"nominal","scale":{"domain":["400","500","600","700","800","900","1100"],"range":["#2b3a9e","#178a3c","#f2df00","#ee2226","#8e1b1b","#5a1212","#151515"]},"legend":null}}},
   {"mark":{"type":"point","opacity":0},"encoding":{
    "x":{"field":"x","type":"quantitative","axis":{"orient":"top","values":[10,20,30,40,50,60,70,80,90,100],"labels":false,"title":null}},
    "y":{"field":"y","type":"quantitative","axis":{"orient":"right","values":[1,2,3,4,5,6,7],"labels":false,"title":null}}}},
   {"data":{"values":[{}]},"mark":{"type":"text","text":"d","color":"#222","fontStyle":"italic","align":"left"},"encoding":{"x":{"datum":42.2,"type":"quantitative","axis":null},"y":{"datum":6.62,"type":"quantitative","axis":null}}},
   {"data":{"values":[{}]},"mark":{"type":"text","text":"asi","color":"#222","fontSize":13,"align":"left"},"encoding":{"x":{"datum":44.6,"type":"quantitative","axis":null},"y":{"datum":6.5,"type":"quantitative","axis":null}}},
   {"data":{"values":[{}]},"mark":{"type":"text","text":"=1500nm","color":"#222","align":"left"},"encoding":{"x":{"datum":48.4,"type":"quantitative","axis":null},"y":{"datum":6.62,"type":"quantitative","axis":null}}},
   {"data":{"values":[{}]},"mark":{"type":"text","text":"λ=1100nm","color":"#151515","align":"right"},"encoding":{"x":{"datum":94.3,"type":"quantitative","axis":null},"y":{"datum":6.33,"type":"quantitative","axis":null}}},
   {"data":{"values":[{}]},"mark":{"type":"text","text":"λ=900nm","color":"#5a1212","align":"right"},"encoding":{"x":{"datum":94.3,"type":"quantitative","axis":null},"y":{"datum":5.33,"type":"quantitative","axis":null}}},
   {"data":{"values":[{}]},"mark":{"type":"text","text":"λ=800nm","color":"#8e1b1b","align":"right"},"encoding":{"x":{"datum":94.3,"type":"quantitative","axis":null},"y":{"datum":4.33,"type":"quantitative","axis":null}}},
   {"data":{"values":[{}]},"mark":{"type":"text","text":"λ=700nm","color":"#ee2226","align":"right"},"encoding":{"x":{"datum":94.3,"type":"quantitative","axis":null},"y":{"datum":3.33,"type":"quantitative","axis":null}}},
   {"data":{"values":[{}]},"mark":{"type":"text","text":"λ=600nm","color":"#f2df00","align":"right"},"encoding":{"x":{"datum":94.3,"type":"quantitative","axis":null},"y":{"datum":2.33,"type":"quantitative","axis":null}}},
   {"data":{"values":[{}]},"mark":{"type":"text","text":"λ=500nm","color":"#178a3c","align":"right"},"encoding":{"x":{"datum":94.3,"type":"quantitative","axis":null},"y":{"datum":1.33,"type":"quantitative","axis":null}}},
   {"data":{"values":[{}]},"mark":{"type":"text","text":"λ=400nm","color":"#2b3a9e","align":"right"},"encoding":{"x":{"datum":94.3,"type":"quantitative","axis":null},"y":{"datum":0.34,"type":"quantitative","axis":null}}},
   {"data":{"values":[{}]},"mark":{"type":"text","text":"θ","color":"#222","fontSize":21,"fontStyle":"italic","align":"left"},"encoding":{"x":{"datum":48.3,"type":"quantitative","axis":null},"y":{"datum":-0.85,"type":"quantitative","axis":null}}},
   {"data":{"values":[{}]},"mark":{"type":"text","text":"det","color":"#222","fontSize":15,"align":"left"},"encoding":{"x":{"datum":50.7,"type":"quantitative","axis":null},"y":{"datum":-0.98,"type":"quantitative","axis":null}}},
   {"data":{"values":[{}]},"mark":{"type":"text","text":"(°)","color":"#222","fontSize":21,"align":"left"},"encoding":{"x":{"datum":56.6,"type":"quantitative","axis":null},"y":{"datum":-0.85,"type":"quantitative","axis":null}}}
  ]},
  {"width":7,"height":341,"view":{"stroke":null},"data":{"values":[{}]},"mark":{"type":"point","opacity":0},"encoding":{"x":{"datum":0,"type":"quantitative","axis":null},"y":{"datum":0,"type":"quantitative","axis":null}}},
  {"width":198,"height":341,"data":{"name":"br1"},"layer":[
   {"mark":{"type":"line","interpolate":"monotone","clip":true,"strokeWidth":1.5},"encoding":{
    "x":{"field":"x","type":"quantitative","scale":{"domain":[10,100],"nice":false,"zero":false},"axis":{"orient":"bottom","values":[10,20,30,40,50,60,70,80,90,100],"labelExpr":"datum.value % 20 == 10 && datum.value < 100 ? datum.value : ''","labelPadding":12,"title":null}},
    "y":{"field":"y","type":"quantitative","scale":{"domain":[0,7.22],"nice":false,"zero":false},"axis":{"orient":"left","values":[1,2,3,4,5,6,7],"labels":false,"grid":true,"gridDash":[3,2],"title":null}},
    "color":{"field":"s","type":"nominal","scale":{"domain":["400","500","600","700","800","900","1100"],"range":["#2b3a9e","#178a3c","#f2df00","#ee2226","#8e1b1b","#5a1212","#151515"]},"legend":null}}},
   {"mark":{"type":"point","opacity":0},"encoding":{
    "x":{"field":"x","type":"quantitative","axis":{"orient":"top","values":[10,20,30,40,50,60,70,80,90,100],"labels":false,"title":null}},
    "y":{"field":"y","type":"quantitative","axis":{"orient":"right","values":[1,2,3,4,5,6,7],"labels":false,"title":null}}}},
   {"data":{"values":[{}]},"mark":{"type":"text","text":"P","color":"#222","fontStyle":"italic","align":"left"},"encoding":{"x":{"datum":62.2,"type":"quantitative","axis":null},"y":{"datum":6.65,"type":"quantitative","axis":null}}},
   {"data":{"values":[{}]},"mark":{"type":"text","text":"=3   m etch=12mins","color":"#222","align":"left"},"encoding":{"x":{"datum":66.6,"type":"quantitative","axis":null},"y":{"datum":6.65,"type":"quantitative","axis":null}}},
   {"data":{"values":[{}]},"mark":{"type":"text","text":"θ","color":"#222","fontSize":21,"fontStyle":"italic","align":"left"},"encoding":{"x":{"datum":41.5,"type":"quantitative","axis":null},"y":{"datum":-0.85,"type":"quantitative","axis":null}}},
   {"data":{"values":[{}]},"mark":{"type":"text","text":"det","color":"#222","fontSize":15,"align":"left"},"encoding":{"x":{"datum":46.3,"type":"quantitative","axis":null},"y":{"datum":-0.98,"type":"quantitative","axis":null}}},
   {"data":{"values":[{}]},"mark":{"type":"text","text":"(°)","color":"#222","fontSize":21,"align":"left"},"encoding":{"x":{"datum":58.2,"type":"quantitative","axis":null},"y":{"datum":-0.85,"type":"quantitative","axis":null}}}
  ]},
  {"width":198,"height":341,"data":{"name":"br2"},"layer":[
   {"mark":{"type":"line","interpolate":"monotone","clip":true,"strokeWidth":1.5},"encoding":{
    "x":{"field":"x","type":"quantitative","scale":{"domain":[30,100],"nice":false,"zero":false},"axis":{"orient":"bottom","values":[30,40,50,60,70,80,90,100],"labelExpr":"datum.value % 20 == 0 ? datum.value : ''","labelPadding":12,"title":null}},
    "y":{"field":"y","type":"quantitative","scale":{"domain":[0,7.22],"nice":false,"zero":false},"axis":{"orient":"left","values":[1,2,3,4,5,6,7],"labels":false,"grid":true,"gridDash":[3,2],"title":null}},
    "color":{"field":"s","type":"nominal","scale":{"domain":["400","500","600","700","800","900","1100"],"range":["#2b3a9e","#178a3c","#f2df00","#ee2226","#8e1b1b","#5a1212","#151515"]},"legend":null}}},
   {"mark":{"type":"point","opacity":0},"encoding":{
    "x":{"field":"x","type":"quantitative","axis":{"orient":"top","values":[30,40,50,60,70,80,90,100],"labels":false,"title":null}},
    "y":{"field":"y","type":"quantitative","axis":{"orient":"right","values":[1,2,3,4,5,6,7],"labels":false,"title":"Norm. Intensity (-)","titlePadding":11}}}},
   {"data":{"values":[{}]},"mark":{"type":"text","text":"det","color":"#222","fontSize":15,"align":"left"},"encoding":{"x":{"datum":58.2,"type":"quantitative","axis":null},"y":{"datum":-0.98,"type":"quantitative","axis":null}}},
   {"data":{"values":[{}]},"mark":{"type":"text","text":"(   )","color":"#222","fontSize":21,"align":"left"},"encoding":{"x":{"datum":68.3,"type":"quantitative","axis":null},"y":{"datum":-0.85,"type":"quantitative","axis":null}}}
  ]}
]}
]
}
